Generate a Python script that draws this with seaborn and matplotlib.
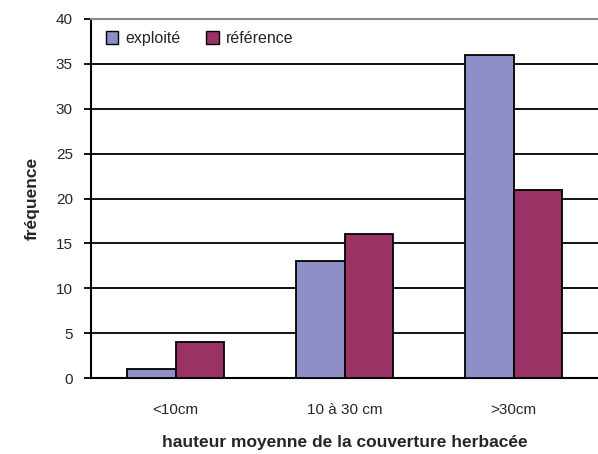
import numpy as np
import pandas as pd
import seaborn as sns
import matplotlib
matplotlib.use("Agg")
import matplotlib.pyplot as plt

# data
categories = ["<10cm", "10 à 30 cm", ">30cm"]
exploite = [1, 13, 36]
reference = [4, 16, 21]
series_names = ["exploité", "référence"]

df = pd.DataFrame({
    "classe": categories * 2,
    "serie": [series_names[0]] * 3 + [series_names[1]] * 3,
    "freq": exploite + reference,
})

sns.set_style("white")
plt.rcParams['font.family'] = ['Liberation Sans', 'DejaVu Sans']

fig = plt.figure(figsize=(5.98, 4.54), dpi=100)
ax = fig.add_axes([91 / 598, 1 - 378 / 454, 1 - 91 / 598, (378 - 19) / 454])

palette = ["#8E8FC7", "#993366"]
sns.barplot(data=df, x="classe", y="freq", hue="serie", palette=palette,
            width=0.574, edgecolor="black", linewidth=1.3, saturation=1,
            ax=ax, zorder=3)

ax.set_xlim(-0.5, 2.5)
ax.set_ylim(0, 40)
ax.set_yticks(np.arange(0, 41, 5))
ax.set_xticks([0, 1, 2])
ax.set_xticks([-0.5, 0.5, 1.5, 2.5], minor=True)
ax.tick_params(axis="x", which="major", length=0, pad=18, labelsize=11)
ax.tick_params(axis="x", which="minor", length=5, width=1.3, color="black", direction="out")
ax.tick_params(axis="y", length=5, width=1.3, color="black", direction="out",
               labelsize=11, left=True, pad=8)

# horizontal gridlines
for v in range(5, 40, 5):
    ax.axhline(v, color="black", linewidth=1.3, zorder=1)

ax.spines["right"].set_visible(False)
ax.spines["top"].set_color("#888888")
ax.spines["top"].set_linewidth(1.5)
for s in ["left", "bottom"]:
    ax.spines[s].set_color("black")
    ax.spines[s].set_linewidth(1.5)

ax.set_xlabel("hauteur moyenne de la couverture herbacée", fontsize=12.5,
              fontweight="bold", labelpad=13)
ax.set_ylabel("fréquence", fontsize=12.5, fontweight="bold", labelpad=12)

leg = ax.legend(loc="upper left", bbox_to_anchor=(0.005, 1.0), ncol=2, frameon=False,
                fontsize=11.5, handlelength=0.8, handleheight=0.8, handletextpad=0.45,
                columnspacing=1.6, borderaxespad=0.35)
for h in leg.legend_handles:
    h.set_edgecolor("black")
    h.set_linewidth(1.0)

fig.savefig("out.png", dpi=100)
plt.close(fig)
